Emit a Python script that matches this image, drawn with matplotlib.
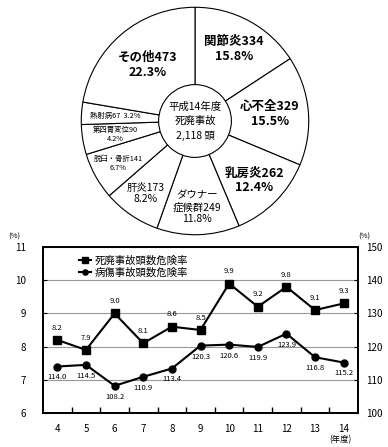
import matplotlib
matplotlib.use("Agg")
import matplotlib.pyplot as plt
import numpy as np

plt.rcParams['font.family'] = ['Noto Sans CJK JP', 'DejaVu Sans']

# ---- pie data ----
causes = ['関節炎', '心不全', '乳房炎', 'ダウナー\n症候群', '肝炎', '脱臼・骨折', '第四胃変位', '熱射病', 'その他']
counts = [334, 329, 262, 249, 173, 141, 90, 67, 473]
pcts = ['15.8%', '15.5%', '12.4%', '11.8%', '8.2%', '6.7%', '4.2%', '3.2%', '22.3%']
center_text = '平成14年度\n死廃事故\n2,118 頭'

# ---- line data ----
years = [4, 5, 6, 7, 8, 9, 10, 11, 12, 13, 14]
death_rate = [8.2, 7.9, 9.0, 8.1, 8.6, 8.5, 9.9, 9.2, 9.8, 9.1, 9.3]
injury_rate = [114.0, 114.5, 108.2, 110.9, 113.4, 120.3, 120.6, 119.9, 123.9, 116.8, 115.2]
death_name = '死廃事故頭数危険率'
injury_name = '病傷事故頭数危険率'

W, H = 388, 447
fig = plt.figure(figsize=(W / 100, H / 100), dpi=100)

# ---------------- pie ----------------
pax = fig.add_axes([79 / W, (H - 237) / H, 232 / W, 232 / H])
wedges, _ = pax.pie(counts, startangle=90, counterclock=False, radius=1,
                    colors=['white'] * len(counts),
                    wedgeprops=dict(edgecolor='black', linewidth=0.8))
pax.set_xlim(-1.02, 1.02)
pax.set_ylim(-1.02, 1.02)
pax.set_aspect('equal')
pax.axis('off')
inner = plt.Circle((0, 0), 0.32, facecolor='white', edgecolor='black', linewidth=0.8, zorder=5)
pax.add_patch(inner)
pax.text(0, 0, center_text, ha='center', va='center', fontsize=7.5, linespacing=1.55, zorder=6)

# per-label styles: (radius, fontsize, bold, layout)
styles = [
    (0.72, 9, True, 'two'),
    (0.66, 9, True, 'two'),
    (0.74, 9, True, 'two'),
    (0.76, 7.5, False, 'two'),
    (0.77, 7.5, False, 'two'),
    (0.77, 5.3, False, 'two'),
    (0.71, 5.3, False, 'two'),
    (0.70, 5.3, False, 'one'),
    (0.65, 9, True, 'two'),
]
for w, name, cnt, pct, (r, fs, bold, lay) in zip(wedges, causes, counts, pcts, styles):
    ang = np.deg2rad((w.theta1 + w.theta2) / 2)
    x, y = r * np.cos(ang), r * np.sin(ang)
    if lay == 'one':
        s = f'{name}{cnt}  {pct}'
    else:
        s = f'{name}{cnt}\n{pct}'
    pax.text(x, y, s, ha='center', va='center', fontsize=fs,
             fontweight='bold' if bold else 'normal', linespacing=1.2)

# ---------------- line chart ----------------
ax = fig.add_axes([43 / W, (H - 413) / H, 315 / W, 166 / H])
ax2 = ax.twinx()
ax.set_xlim(3.5, 14.5)
ax.set_ylim(6, 11)
ax2.set_ylim(100, 150)
for a in (ax, ax2):
    for sp in a.spines.values():
        sp.set_linewidth(1.3)

ax.set_yticks([6, 7, 8, 9, 10, 11])
ax2.set_yticks([100, 110, 120, 130, 140, 150])
ax.grid(axis='y', color='#999999', linewidth=0.8)
ax.set_xticks(years)
ax.set_xticks(np.arange(4.5, 14.5, 1), minor=True)
ax.tick_params(axis='x', which='major', length=0, labelsize=7, pad=8)
ax.tick_params(axis='x', which='minor', direction='in', length=4, width=1)
ax.tick_params(axis='y', direction='in', length=3, labelsize=7, pad=12)
ax2.tick_params(axis='y', direction='in', length=3, labelsize=7, pad=6)

l1, = ax.plot(years, death_rate, color='black', marker='s', markersize=6, linewidth=1.5)
l2, = ax2.plot(years, injury_rate, color='black', marker='o', markersize=5, linewidth=1.5)

for xv, yv in zip(years, death_rate):
    ax.annotate(f'{yv:.1f}', (xv, yv), xytext=(0, 6), textcoords='offset points',
                ha='center', va='bottom', fontsize=5.5)
for xv, yv in zip(years, injury_rate):
    ax2.annotate(f'{yv:.1f}', (xv, yv), xytext=(0, -5), textcoords='offset points',
                 ha='center', va='top', fontsize=5.5)

ax.legend([l1, l2], [death_name, injury_name], loc='upper left', bbox_to_anchor=(0.09, 0.99),
          frameon=False, fontsize=7.5, handlelength=1.2, handletextpad=0.3, markerscale=0.75,
          labelspacing=0.15, borderpad=0.2)

fig.text(8 / W, 1 - 237 / H, '(%)', fontsize=5.5, va='center', ha='left')
fig.text(358 / W, 1 - 237 / H, '(%)', fontsize=5.5, va='center', ha='left')
fig.text(352 / W, 1 - 440 / H, '(年度)', fontsize=6, va='center', ha='right')

fig.savefig('out.png', dpi=100)
